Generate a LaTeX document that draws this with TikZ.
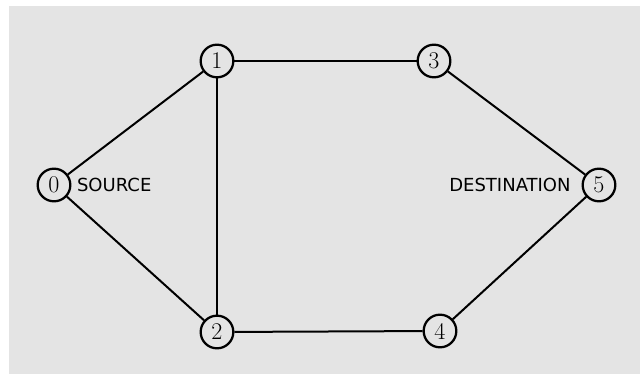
\documentclass[tikz,border=0pt]{standalone}
\usepackage{fontspec}
\newfontfamily\labelfont{DejaVu Sans}
\usetikzlibrary{positioning}
\definecolor{panel}{RGB}{228,228,228}
\tikzset{
  vertex/.style={circle,draw=black,line width=1.7pt,inner sep=0pt,minimum size=24.5pt,
    font=\fontsize{18}{18}\selectfont},
  link/.style={line width=1.5pt,draw=black},
  tag/.style={font=\labelfont\fontsize{13.5}{13.5}\selectfont,inner sep=2pt},
}
\begin{document}
\begin{tikzpicture}[x=0.75pt,y=-0.75pt]
  \useasboundingbox (0,0) rectangle (640,374);
  \fill[panel] (9,6) rectangle (640,374);
  % routers
  \foreach \n/\x/\y in {0/54/185,1/217/61,2/217/332,3/434/61,4/440/331,5/599/185}
    \node[vertex] (v\n) at (\x,\y) {\n};
  % links
  \foreach \a/\b in {0/1,0/2,1/2,1/3,2/4,3/5,4/5}
    \draw[link] (v\a) -- (v\b);
  \node[tag,right=2pt of v0] (src) {SOURCE};
  \node[tag,left=6pt of v5] (dst) {DESTINATION};
\end{tikzpicture}
\end{document}
